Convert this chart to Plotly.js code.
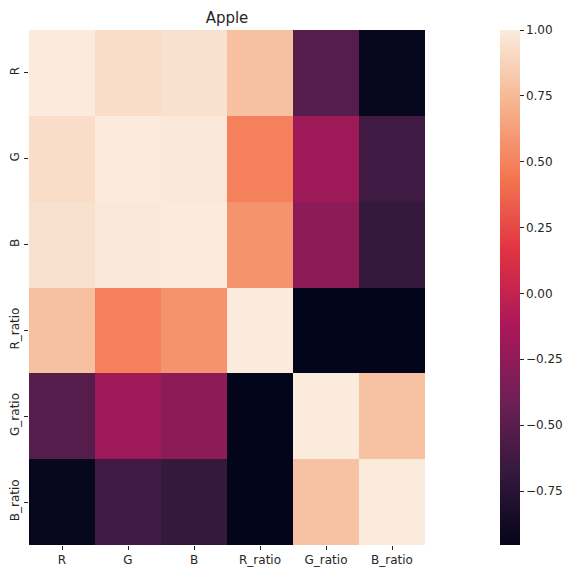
<!DOCTYPE html>
<html>
<head>
<meta charset="utf-8">
<script src="https://cdn.plot.ly/plotly-3.0.1.min.js"></script>
<style>html,body{margin:0;padding:0;background:#fff;}#chart{width:582px;height:572px;}</style>
</head>
<body>
<div id="chart"></div>
<script>
const labels = ["R", "G", "B", "R_ratio", "G_ratio", "B_ratio"];
const rowR      = [1.00, 0.93, 0.95, 0.78, -0.52, -0.93];
const rowG      = [0.93, 1.00, 0.99, 0.49, -0.19, -0.63];
const rowB      = [0.95, 0.99, 1.00, 0.57, -0.27, -0.68];
const rowRratio = [0.78, 0.49, 0.57, 1.00, -0.955, -0.955];
const rowGratio = [-0.52, -0.19, -0.27, -0.955, 1.00, 0.79];
const rowBratio = [-0.93, -0.63, -0.68, -0.955, 0.79, 1.00];
const cbTicks = [-0.75, -0.5, -0.25, 0, 0.25, 0.5, 0.75, 1.0];

const rocket = [
  [0.0, "#03051a"],
  [0.1429, "#35193e"],
  [0.2857, "#701f57"],
  [0.4286, "#ad1759"],
  [0.5714, "#e13342"],
  [0.7143, "#f37651"],
  [0.8571, "#f6b48f"],
  [1.0, "#faebdd"]
];

const z = [rowR, rowG, rowB, rowRratio, rowGratio, rowBratio];
const font = {family: "DejaVu Sans, sans-serif", size: 12, color: "#262626"};
const L = 29, R = 425, T = 30, B = 545;
const W = 582, H = 572;

const trace = {
  type: "heatmap",
  z: z, x: labels, y: labels,
  colorscale: rocket,
  zmin: -0.955, zmax: 1.0,
  xgap: 0, ygap: 0,
  colorbar: {
    thickness: 20,
    len: B - T, lenmode: "pixels",
    x: (500 - L) / (R - L), xanchor: "left", xref: "paper",
    y: 1, yanchor: "top", yref: "paper",
    xpad: 0, ypad: 0,
    outlinewidth: 0,
    ticks: "outside", ticklen: 4, tickwidth: 1, tickcolor: "#262626",
    tickvals: cbTicks, tickformat: ".2f",
    tickfont: font
  }
};

const layout = {
  width: W, height: H,
  margin: {l: L, r: W - R, t: T, b: H - B, autoexpand: false},
  paper_bgcolor: "#ffffff", plot_bgcolor: "#ffffff",
  font: font,
  title: {text: "Apple", font: {family: "DejaVu Sans, sans-serif", size: 15, color: "#262626"},
          x: 0.5, xref: "paper", y: 1, yref: "paper", yanchor: "bottom", pad: {b: 7}},
  xaxis: {type: "category", ticks: "outside", ticklen: 4, tickcolor: "#262626",
          showgrid: false, zeroline: false, showline: false, tickfont: font, tickangle: 0},
  yaxis: {type: "category", autorange: "reversed", ticks: "outside", ticklen: 4, tickcolor: "#262626",
          showgrid: false, zeroline: false, showline: false, tickfont: font, tickangle: -90}
};

Plotly.newPlot("chart", [trace], layout, {displayModeBar: false, staticPlot: true});
</script>
</body>
</html>
